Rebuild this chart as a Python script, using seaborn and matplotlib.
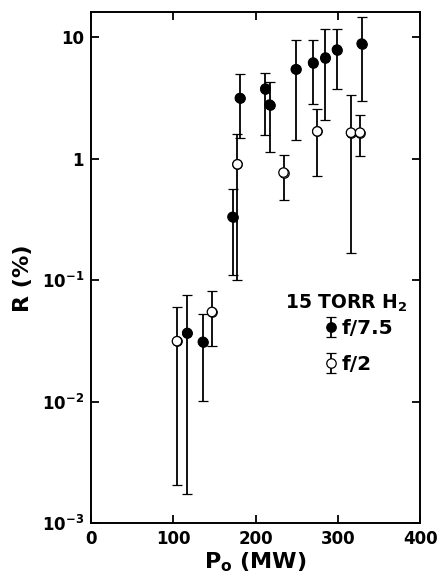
import numpy as np
import pandas as pd
import matplotlib
matplotlib.use("Agg")
import matplotlib.pyplot as plt
import seaborn as sns

# ---- data ----
# f/7.5 series (filled circles)
p_f75 = [117, 136, 172, 181, 212, 217, 249, 270, 285, 299, 329]
r_f75 = [0.0368, 0.0311, 0.332, 3.16, 3.78, 2.79, 5.45, 6.19, 6.81, 7.92, 8.87]
r_f75_hi = [0.0753, 0.0525, 0.569, 4.96, 5.12, 4.29, 9.45, 9.45, 11.6, 11.8, 14.7]
r_f75_lo = [0.00175, 0.0101, 0.111, 1.47, 1.56, 1.14, 1.44, 2.85, 2.07, 3.78, 2.97]

# f/2 series (open circles)
p_f2 = [104.5, 147, 178, 234, 275, 316, 327]
r_f2 = [0.0315, 0.0548, 0.90, 0.77, 1.68, 1.64, 1.64]
r_f2_hi = [0.0603, 0.0817, 1.61, 1.07, 2.57, 3.33, 2.28]
r_f2_lo = [0.00208, 0.0288, 0.10, 0.455, 0.718, 0.166, 1.05]

series_labels = ["f/7.5", "f/2"]
legend_title = "15 TORR H$_\\mathbf{2}$"
x_ticks = [0, 100, 200, 300, 400]
y_ticks = [1e-3, 1e-2, 1e-1, 1, 10]
y_tick_labels = ["10$^{-3}$", "10$^{-2}$", "10$^{-1}$", "1", "10"]

df = pd.concat([
    pd.DataFrame({"P": p_f75, "R": r_f75, "hi": r_f75_hi, "lo": r_f75_lo, "s": series_labels[0]}),
    pd.DataFrame({"P": p_f2, "R": r_f2, "hi": r_f2_hi, "lo": r_f2_lo, "s": series_labels[1]}),
], ignore_index=True)

sns.set_theme(style="ticks", rc={"text.color": "black", "axes.labelcolor": "black",
                                  "xtick.color": "black", "ytick.color": "black",
                                  "axes.edgecolor": "black"})
plt.rcParams["font.family"] = ["DejaVu Sans"]
plt.rcParams["font.weight"] = "bold"
plt.rcParams["mathtext.fontset"] = "custom"
plt.rcParams["mathtext.rm"] = "DejaVu Sans:bold"
plt.rcParams["mathtext.bf"] = "DejaVu Sans:bold"
plt.rcParams["mathtext.it"] = "DejaVu Sans:bold"
plt.rcParams["mathtext.default"] = "bf"

fig = plt.figure(figsize=(4.45, 5.8), dpi=100)
ax = fig.add_axes([0.2045, 0.098, 0.7395, 0.881])

styles = {series_labels[0]: "black", series_labels[1]: "white"}
handles = []
for lab in series_labels:
    d = df[df["s"] == lab]
    yerr = np.vstack([d["R"] - d["lo"], d["hi"] - d["R"]])
    eb = ax.errorbar(d["P"], d["R"], yerr=yerr, fmt="o", color="black",
                     ecolor="black", elinewidth=1.3, capsize=3.8, capthick=1.3,
                     markersize=6.8, markerfacecolor=styles[lab],
                     markeredgecolor="black", markeredgewidth=0.9, zorder=3,
                     label=lab)
    handles.append(eb)

sns.scatterplot(data=df, x="P", y="R", hue="s", palette=styles,
                edgecolor="black", linewidth=0.9, s=46, ax=ax, legend=False,
                zorder=4)

ax.set_yscale("log")
ax.set_xlim(0, 400)
ax.set_ylim(1e-3, 16.1)
ax.set_xticks(x_ticks)
ax.set_xticklabels([str(t) for t in x_ticks], fontsize=12, fontweight="bold")
ax.set_yticks(y_ticks)
ax.set_yticklabels(y_tick_labels, fontsize=12, fontweight="bold")
ax.yaxis.set_minor_locator(matplotlib.ticker.NullLocator())
ax.tick_params(which="major", direction="in", length=6, width=1.3,
               top=True, right=True, pad=5, colors="black")
for sp in ax.spines.values():
    sp.set_linewidth(1.4)
    sp.set_color("black")

ax.set_xlabel("P$_\\mathbf{o}$ (MW)", fontsize=16, fontweight="bold", labelpad=2)
ax.set_ylabel("R (%)", fontsize=16, fontweight="bold")
ax.yaxis.set_label_coords(-0.175, 0.48)

leg = ax.legend(handles=handles, labels=series_labels,
                frameon=False, loc="upper left", bbox_to_anchor=(0.705, 0.403),
                fontsize=14.5, handlelength=0.6,
                handletextpad=0.2, labelspacing=0.82, borderpad=0.1,
                borderaxespad=0.0)
for t in leg.get_texts():
    t.set_fontweight("bold")
ax.text(0.9635, 0.4188, legend_title, transform=ax.transAxes, ha="right",
        va="baseline", fontsize=13.5, fontweight="bold")

fig.savefig("out.png", dpi=100)
